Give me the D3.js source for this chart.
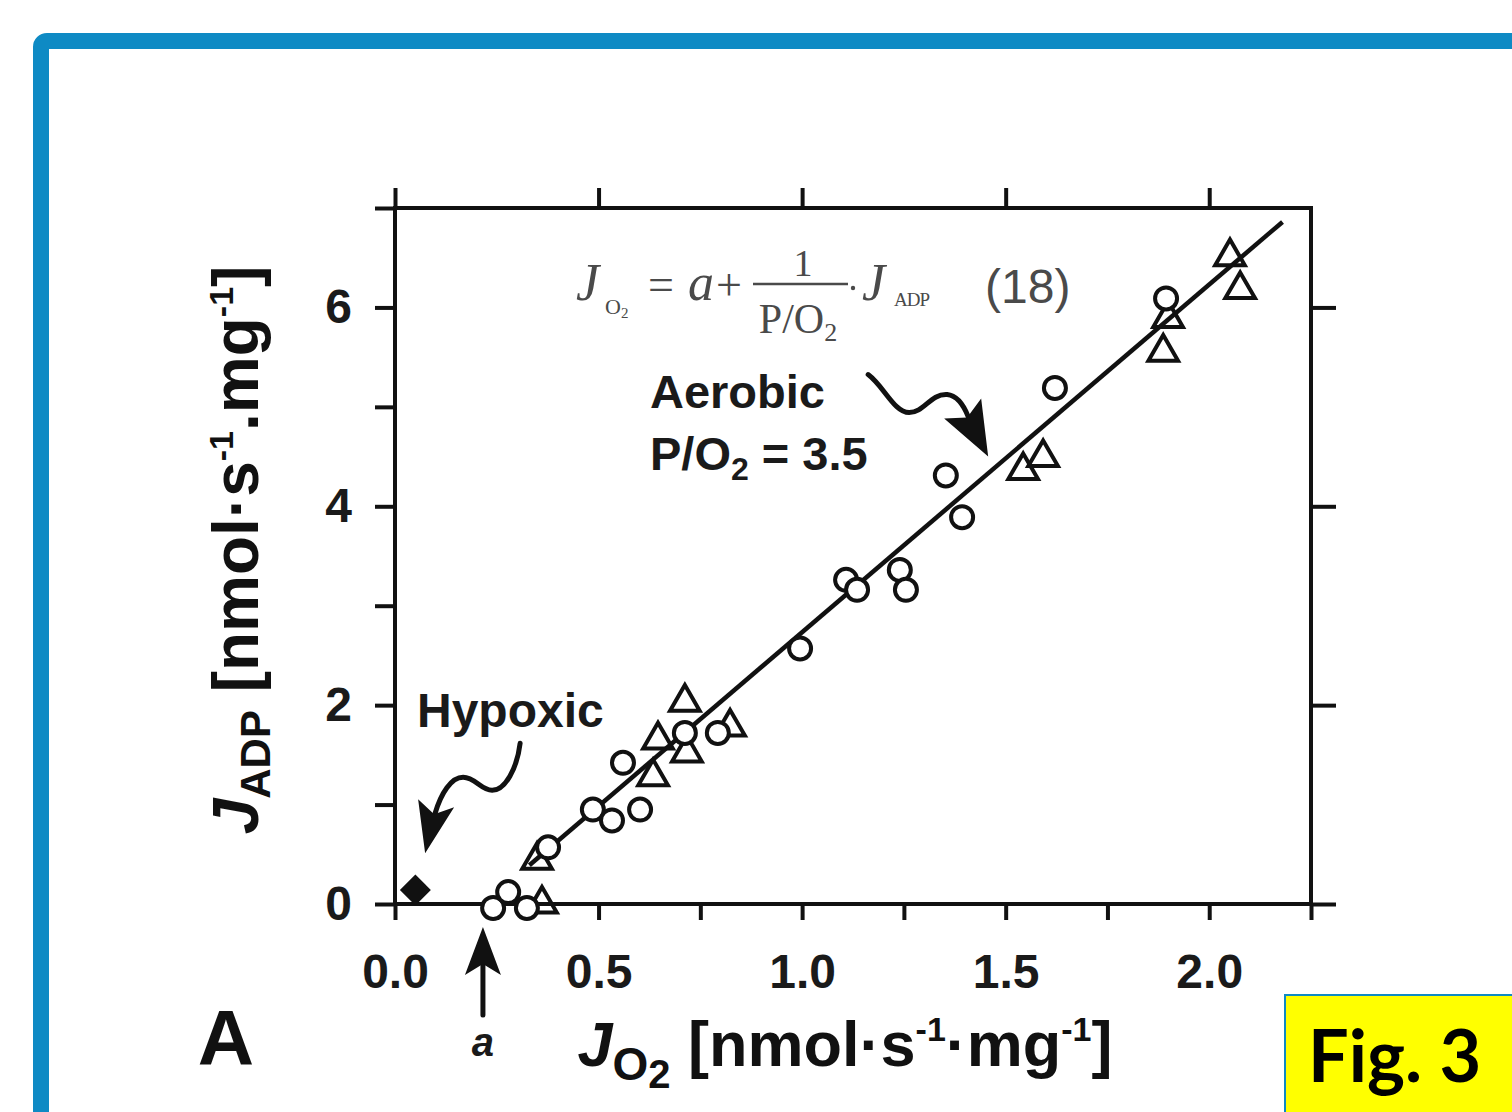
<!DOCTYPE html>
<html lang="en">
<head>
  <meta charset="UTF-8">
  <title>Fig. 3 - JADP vs JO2</title>
  <style>
    html, body {
      margin: 0;
      padding: 0;
      overflow: hidden;
      background: #fff;
    }
    svg { display: block; }
    .sans { font-family: 'Liberation Sans', Arial, sans-serif; }
    .serif { font-family: 'Liberation Serif', 'Times New Roman', serif; }
  </style>
</head>
<body>
<svg width="1512" height="1112"></svg>
<script src="https://d3js.org/d3.v7.min.js"></script>
<script>
// ---- data ----
const circlePts = [
  [0.241, -0.04], [0.278, 0.12], [0.324, -0.04], [0.376, 0.57],
  [0.486, 0.95], [0.533, 0.84], [0.560, 1.42], [0.602, 0.95],
  [0.712, 1.72], [0.793, 1.72], [0.995, 2.57], [1.108, 3.26],
  [1.135, 3.16], [1.240, 3.36], [1.255, 3.16], [1.353, 4.31],
  [1.393, 3.89], [1.621, 5.19], [1.894, 6.09]
];
const trianglePts = [
  [0.361, 0.00], [0.349, 0.44], [0.634, 1.28], [0.646, 1.65],
  [0.712, 2.03], [0.717, 1.52], [0.823, 1.78], [1.543, 4.36],
  [1.592, 4.49], [1.899, 5.89], [1.887, 5.55], [2.051, 6.51],
  [2.076, 6.18]
];
const hypoxicPts = [[0.05, 0.14]];
const fitLine = [[0.33, 0.39], [2.18, 6.86]];   // JO2 = a + JADP / 3.5, a = 0.22
const interceptA = 0.216;

const xDomain = [0, 2.25];
const yDomain = [0, 7];
const xTicksAll = [0, 0.25, 0.5, 0.75, 1, 1.25, 1.5, 1.75, 2, 2.25];
const xTicksMajor = [0, 0.5, 1, 1.5, 2];
const yTicksAll = [0, 1, 2, 3, 4, 5, 6, 7];
const yTicksMajor = [0, 2, 4, 6];

const svg = d3.select("svg");
const plot = { left: 395, right: 1311, top: 208, bottom: 904 };

const x = d3.scaleLinear().domain(xDomain).range([plot.left, plot.right]);
const y = d3.scaleLinear().domain(yDomain).range([plot.bottom, plot.top]);

// blue frame
svg.append("rect")
  .attr("x", 41).attr("y", 41).attr("width", 1600).attr("height", 1200)
  .attr("rx", 6)
  .attr("fill", "none").attr("stroke", "#0e8ac4").attr("stroke-width", 16);

// axes
function styleAxis(g) {
  g.select(".domain").remove();
  g.selectAll(".tick line").attr("stroke", "#111").attr("stroke-width", 4);
  g.selectAll(".tick text")
    .attr("class", "sans")
    .attr("fill", "#1a1a1a")
    .attr("font-size", 48)
    .attr("font-weight", "bold");
}

svg.append("g")
  .attr("transform", `translate(${plot.left},0)`)
  .call(d3.axisLeft(y).tickValues(yTicksAll).tickSize(20).tickPadding(23)
    .tickFormat(d => yTicksMajor.includes(d) ? d : ""))
  .call(styleAxis);

svg.append("g")
  .attr("transform", `translate(0,${plot.bottom})`)
  .call(d3.axisBottom(x).tickValues(xTicksAll).tickSize(16).tickPadding(34)
    .tickFormat(d => xTicksMajor.includes(d) ? d3.format(".1f")(d) : ""))
  .call(styleAxis);

svg.append("g")
  .attr("transform", `translate(0,${plot.top})`)
  .call(d3.axisTop(x).tickValues(xTicksMajor).tickSize(20).tickFormat(""))
  .call(styleAxis);

svg.append("g")
  .attr("transform", `translate(${plot.right},0)`)
  .call(d3.axisRight(y).tickValues(yTicksMajor).tickSize(25).tickFormat(""))
  .call(styleAxis);

svg.append("rect")
  .attr("x", plot.left).attr("y", plot.top)
  .attr("width", plot.right - plot.left).attr("height", plot.bottom - plot.top)
  .attr("fill", "none").attr("stroke", "#111").attr("stroke-width", 4);

// regression line
svg.append("path")
  .datum(fitLine)
  .attr("d", d3.line().x(d => x(d[0])).y(d => y(d[1])))
  .attr("stroke", "#111").attr("stroke-width", 4.5).attr("fill", "none");

// markers
svg.append("g").selectAll("path")
  .data(trianglePts)
  .join("path")
  .attr("transform", d => `translate(${x(d[0])},${y(d[1])})`)
  .attr("d", d3.symbol(d3.symbolTriangle, 380))
  .attr("fill", "none").attr("stroke", "#111").attr("stroke-width", 4);

svg.append("g").selectAll("circle")
  .data(circlePts)
  .join("circle")
  .attr("cx", d => x(d[0])).attr("cy", d => y(d[1])).attr("r", 11)
  .attr("fill", "#fff").attr("stroke", "#111").attr("stroke-width", 4);

svg.append("g").selectAll("path")
  .data(hypoxicPts)
  .join("path")
  .attr("transform", d => `translate(${x(d[0])},${y(d[1])}) rotate(45)`)
  .attr("d", d3.symbol(d3.symbolSquare, 480))
  .attr("fill", "#111");

// arrows (shaft + barbed head), drawn relative to the tip
function arrow(tx, ty, shaft, head) {
  const g = svg.append("g").attr("transform", `translate(${tx},${ty})`);
  g.append("path").attr("d", shaft)
    .attr("fill", "none").attr("stroke", "#111").attr("stroke-width", 5)
    .attr("stroke-linecap", "round");
  g.append("path").attr("d", head).attr("fill", "#111");
}

arrow(x(1.457), y(4.50),
  "M-120,-82 C-104,-70 -94,-44 -79,-44 C-64,-44 -58,-63 -41,-62 C-30,-61 -24,-50 -20,-40",
  "M0,0 L-44,-38 L-21,-39 L-7,-58 Z");

arrow(x(0.074), y(0.51),
  "M95,-110 C92,-85 80,-63 67,-63 C56,-63 50,-76 38,-76 C26,-76 16,-60 10,-40",
  "M0,0 L-7,-54 L9,-39 L29,-46 Z");

arrow(x(interceptA), plot.bottom + 23,
  "M0,30 L0,88",
  "M0,0 L-18,48 L0,37 L18,48 Z");

// texts
svg.append("text").attr("class", "sans")
  .attr("x", x(interceptA)).attr("y", 1056).attr("text-anchor", "middle")
  .attr("font-size", 40).attr("font-weight", "bold").attr("font-style", "italic")
  .attr("fill", "#1a1a1a").text("a");

svg.append("text").attr("class", "sans")
  .attr("x", 226).attr("y", 1065).attr("text-anchor", "middle")
  .attr("font-size", 78).attr("font-weight", "bold").attr("fill", "#111").text("A");

svg.append("text").attr("class", "sans")
  .attr("x", 417).attr("y", 727)
  .attr("font-size", 48).attr("font-weight", "bold").attr("fill", "#1a1a1a").text("Hypoxic");

svg.append("text").attr("class", "sans")
  .attr("x", 650).attr("y", 408)
  .attr("font-size", 47).attr("font-weight", "bold").attr("fill", "#1a1a1a").text("Aerobic");

const po = svg.append("text").attr("class", "sans")
  .attr("x", 650).attr("y", 470)
  .attr("font-size", 47).attr("font-weight", "bold").attr("fill", "#1a1a1a");
po.append("tspan").text("P/O");
po.append("tspan").attr("font-size", 32).attr("dy", 10).text("2");
po.append("tspan").attr("dy", -10).text(" = 3.5");

// equation (18)
const eqColor = "#4a4a4a";
const eq = svg.append("g").attr("class", "serif").attr("fill", eqColor);
function eqText(px, py, size, str, italic) {
  return eq.append("text").attr("x", px).attr("y", py).attr("font-size", size)
    .attr("font-style", italic ? "italic" : null).text(str);
}
eqText(576, 300, 52, "J", true);
eqText(605, 314, 22, "O");
eqText(621, 318, 15, "2");
eqText(648, 300, 46, "=");
eqText(688, 300, 52, "a", true);
eqText(716, 300, 46, "+");
eq.append("line").attr("x1", 753).attr("x2", 848).attr("y1", 284).attr("y2", 284)
  .attr("stroke", eqColor).attr("stroke-width", 2.5);
eqText(803, 276, 38, "1").attr("text-anchor", "middle");
const den = eq.append("text").attr("x", 798).attr("y", 333).attr("text-anchor", "middle")
  .attr("font-size", 42);
den.append("tspan").text("P/O");
den.append("tspan").attr("font-size", 26).attr("dy", 8).text("2");
// centre dot drawn as a small circle so it does not collide with the J
eq.append("circle").attr("cx", 853).attr("cy", 288).attr("r", 2.2);
eqText(862, 300, 52, "J", true);
eqText(894, 306, 19, "ADP").attr("letter-spacing", -1);
svg.append("text").attr("class", "sans")
  .attr("x", 985).attr("y", 303).attr("font-size", 48).attr("fill", eqColor).text("(18)");

// axis titles
const xl = svg.append("text").attr("class", "sans")
  .attr("x", 845).attr("y", 1066).attr("text-anchor", "middle")
  .attr("font-size", 63).attr("font-weight", "bold").attr("fill", "#111");
xl.append("tspan").attr("font-style", "italic").text("J");
xl.append("tspan").attr("font-size", 46).attr("dy", 14).text("O");
xl.append("tspan").attr("font-size", 40).attr("dy", 8).text("2");
xl.append("tspan").attr("dy", -22).text(" [nmol·s");
xl.append("tspan").attr("font-size", 34).attr("dy", -25).text("-1");
xl.append("tspan").attr("dy", 25).text("·mg");
xl.append("tspan").attr("font-size", 34).attr("dy", -25).text("-1");
xl.append("tspan").attr("dy", 25).text("]");

const yl = svg.append("text").attr("class", "sans")
  .attr("transform", "translate(258,550) rotate(-90)").attr("text-anchor", "middle")
  .attr("font-size", 64).attr("font-weight", "bold").attr("fill", "#111");
yl.append("tspan").attr("font-style", "italic").text("J");
yl.append("tspan").attr("font-size", 42).attr("dy", 12).text("ADP");
yl.append("tspan").attr("dy", -12).text(" [nmol·s");
yl.append("tspan").attr("font-size", 34).attr("dy", -25).text("-1");
yl.append("tspan").attr("dy", 25).text(".mg");
yl.append("tspan").attr("font-size", 34).attr("dy", -25).text("-1");
yl.append("tspan").attr("dy", 25).text("]");

// Fig. 3 tag
svg.append("rect")
  .attr("x", 1285).attr("y", 995).attr("width", 260).attr("height", 140)
  .attr("fill", "#ffff00").attr("stroke", "#0e8ac4").attr("stroke-width", 2);
svg.append("text")
  .attr("x", 1308).attr("y", 1082)
  .attr("font-family", "Lato, 'Open Sans', sans-serif")
  .attr("font-size", 72).attr("font-weight", "bold").attr("fill", "#000").text("Fig. 3");
</script>
</body>
</html>
